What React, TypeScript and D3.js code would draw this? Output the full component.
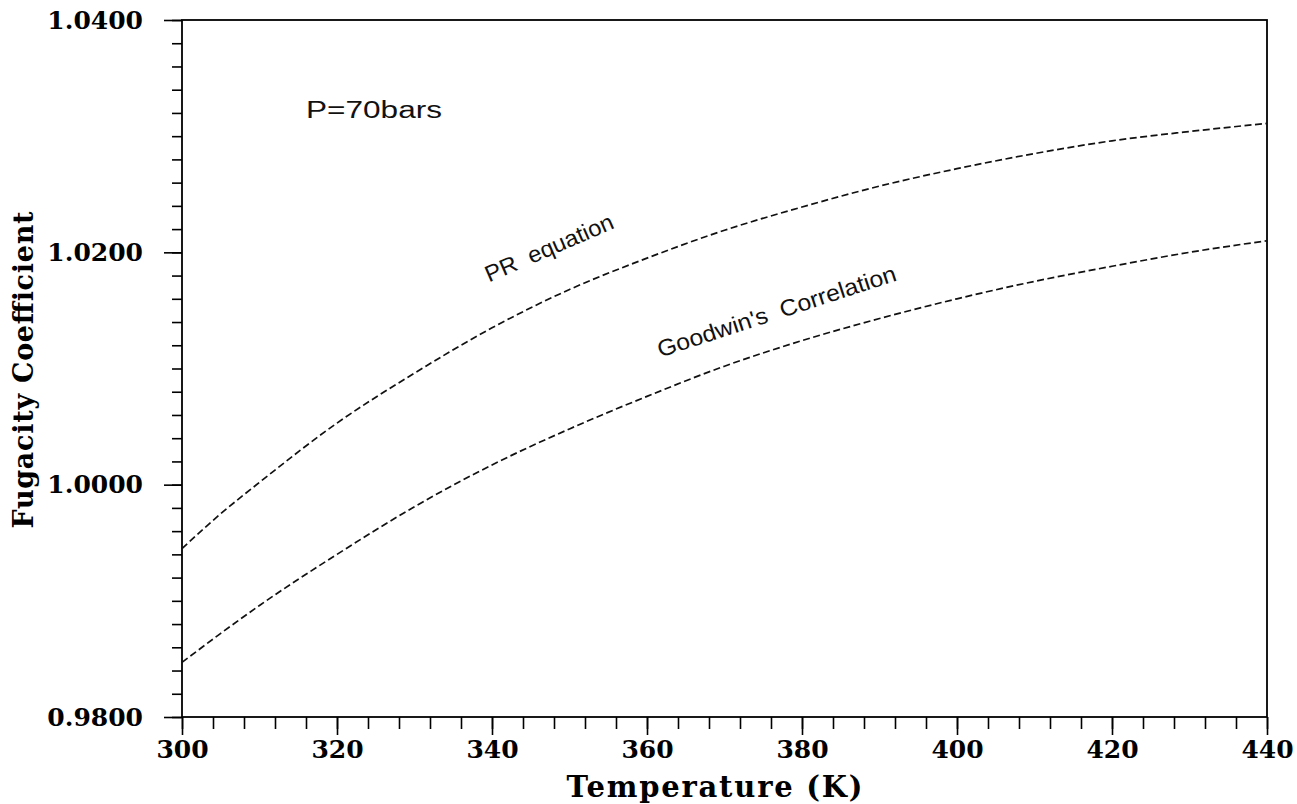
import { useRef, useEffect } from 'react';
import * as d3 from 'd3';

// temperature (K) and fugacity coefficient
const temps = [300, 305, 310, 320, 330, 340, 350, 360, 370, 380, 390, 400, 410, 420, 430, 440];
const prEquation = [0.9945, 0.9975, 1.0002, 1.0053, 1.0096, 1.0135, 1.0168, 1.0195, 1.0219, 1.0239, 1.0257, 1.0272, 1.0285, 1.0296, 1.0304, 1.0311];
const goodwin = [0.9847, 0.9872, 0.9896, 0.9940, 0.9981, 1.0017, 1.0048, 1.0076, 1.0102, 1.0124, 1.0143, 1.0160, 1.0175, 1.0188, 1.0200, 1.0210];

const xMajorTicks = [300, 320, 340, 360, 380, 400, 420, 440];
const yMajorTicks = [0.98, 1.0, 1.02, 1.04];

const noteTexts = ['P=70bars', 'PR  equation', "Goodwin's  Correlation"];
const noteT = [316, 339.6, 361.7];
const noteV = [1.0316, 1.0174, 1.01095];
const noteAngle = [0, -23.4, -18];
const noteLen = [136, 138, 250];

const W = 1297, H = 804;
const left = 182, right = 1267, top = 20, bottom = 717;

export default function App() {
  const gRef = useRef<SVGGElement>(null);

  const x = d3.scaleLinear().domain([300, 440]).range([left, right]);
  const y = d3.scaleLinear().domain([0.98, 1.04]).range([bottom, top]);

  useEffect(() => {
    const g = d3.select(gRef.current);
    g.selectAll('*').remove();

    const serif = '"DejaVu Serif", serif';

    // minor x ticks every 4 K
    g.append('g')
      .attr('transform', `translate(0,${bottom})`)
      .call(d3.axisBottom(x).tickValues(d3.range(300, 441, 4)).tickSize(12).tickFormat(() => ''));
    // major x ticks
    const xa = g.append('g')
      .attr('transform', `translate(0,${bottom})`)
      .call(d3.axisBottom(x).tickValues(xMajorTicks).tickSize(18).tickPadding(5).tickFormat(d3.format('d')));
    xa.selectAll('text').attr('font-family', serif).attr('font-weight', 'bold').attr('font-size', 25).attr('fill', '#000');

    // minor y ticks every 0.002
    g.append('g')
      .attr('transform', `translate(${left},0)`)
      .call(d3.axisLeft(y).tickValues(d3.range(0, 31).map(i => 0.98 + i * 0.002)).tickSize(10).tickFormat(() => ''));
    const ya = g.append('g')
      .attr('transform', `translate(${left},0)`)
      .call(d3.axisLeft(y).tickValues(yMajorTicks).tickSize(18).tickPadding(21).tickFormat(d3.format('.4f')));
    ya.selectAll('text').attr('font-family', serif).attr('font-weight', 'bold').attr('font-size', 25).attr('fill', '#000');

    g.selectAll('.domain').remove();
    g.selectAll('.tick line').attr('stroke', '#000').attr('stroke-width', 1.6);
  }, []);

  const line = d3.line<number>()
    .x((_, i) => x(temps[i]))
    .y(d => y(d))
    .curve(d3.curveMonotoneX);

  return (
    <svg width={W} height={H} style={{ position: 'absolute', left: 0, top: 0, background: '#fff' }}>
      <rect x={left} y={top} width={right - left} height={bottom - top} fill="none" stroke="#000" strokeWidth={1.8} />
      <g ref={gRef} />
      {[prEquation, goodwin].map((s, i) => (
        <path key={i} d={line(s) || ''} fill="none" stroke="#111" strokeWidth={1.7} strokeDasharray="7,3.5" />
      ))}
      {noteTexts.map((t, i) => (
        <text key={t}
          transform={`translate(${x(noteT[i])},${y(noteV[i])}) rotate(${noteAngle[i]})`}
          fontFamily='"Liberation Sans", sans-serif' fontSize={23}
          textLength={noteLen[i]} lengthAdjust="spacingAndGlyphs" fill="#111"
          style={{ whiteSpace: 'pre' }}>{t}</text>
      ))}
      <text transform={`translate(33,370) rotate(-90)`} textAnchor="middle"
        fontFamily='"DejaVu Serif", serif' fontWeight="bold" fontSize={27}
        textLength={317} lengthAdjust="spacing">Fugacity Coefficient</text>
      <text x={(left + right) / 2 - 10} y={797} textAnchor="middle"
        fontFamily='"DejaVu Serif", serif' fontWeight="bold" fontSize={29}
        textLength={296} lengthAdjust="spacing">Temperature (K)</text>
    </svg>
  );
}
